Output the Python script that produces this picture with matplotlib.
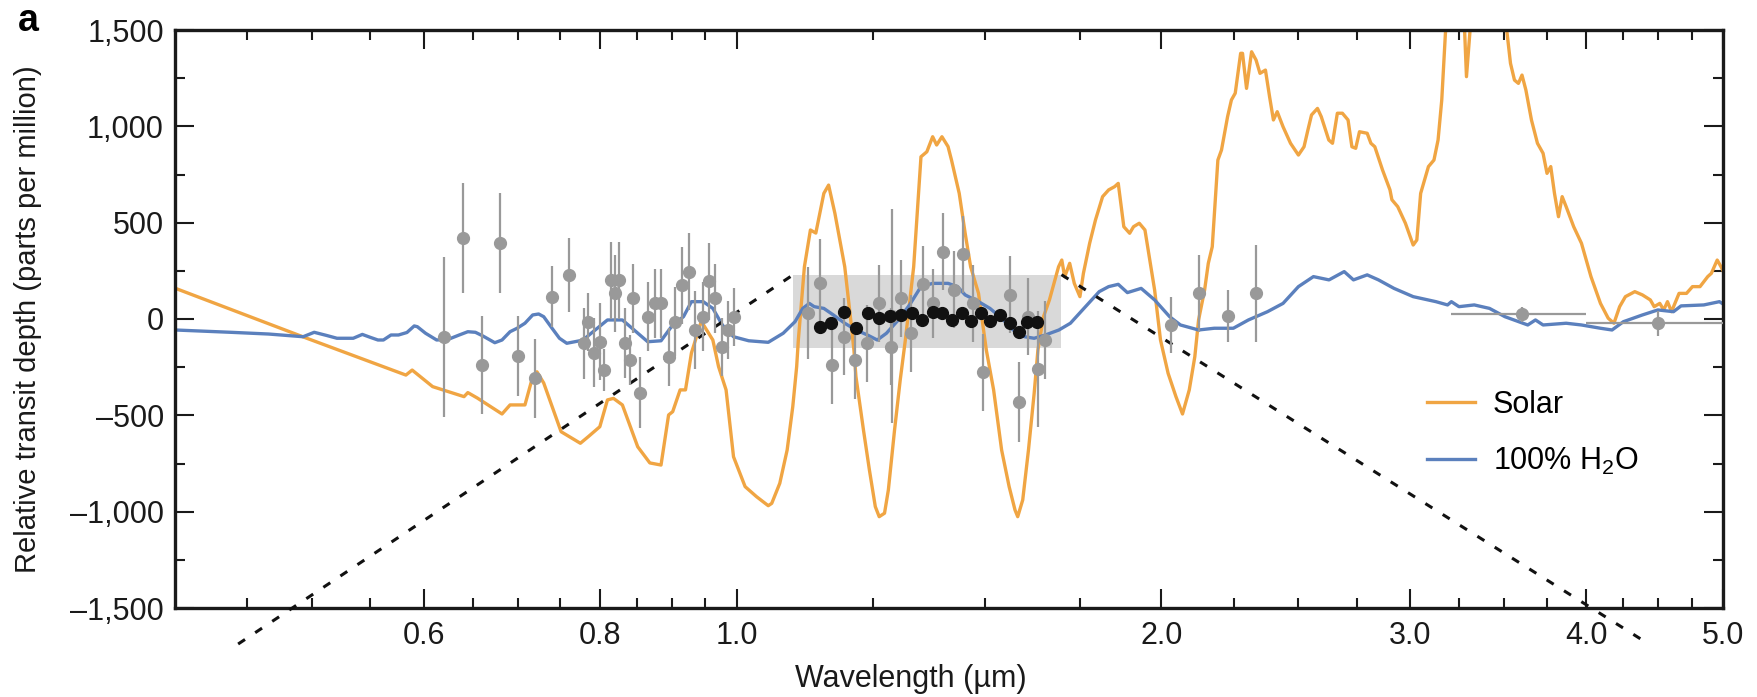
import numpy as np
import matplotlib.pyplot as plt
from matplotlib.ticker import FixedLocator, FuncFormatter, NullFormatter

plt.rcParams['font.family'] = ['Liberation Sans', 'DejaVu Sans']
plt.rcParams['mathtext.default'] = 'regular'

# %% model spectra (wavelength in um, relative depth in ppm)
solar_wl = [0.400, 0.496, 0.583, 0.589, 0.609, 0.641, 0.645, 0.655, 0.682, 0.691, 0.708, 0.715,
            0.722, 0.730, 0.751, 0.775, 0.785, 0.800, 0.810, 0.818, 0.830, 0.851, 0.868, 0.884,
            0.895, 0.901, 0.912, 0.920, 0.929, 0.944, 0.962, 0.971, 0.983, 0.995, 1.014, 1.033,
            1.053, 1.059, 1.073, 1.086, 1.096, 1.103, 1.106, 1.117, 1.128, 1.138, 1.153, 1.162,
            1.174, 1.193, 1.204, 1.211, 1.215, 1.230, 1.242, 1.254, 1.262, 1.273, 1.281, 1.294,
            1.306, 1.317, 1.335, 1.351, 1.364, 1.377, 1.386, 1.398, 1.412, 1.420, 1.438, 1.452,
            1.465, 1.484, 1.503, 1.521, 1.541, 1.560, 1.575, 1.582, 1.595, 1.610, 1.625, 1.635,
            1.650, 1.666, 1.691, 1.700, 1.708, 1.722, 1.735, 1.751, 1.761, 1.779, 1.796, 1.817,
            1.835, 1.853, 1.864, 1.881, 1.899, 1.911, 1.929, 1.947, 1.978, 1.997, 2.022, 2.048,
            2.070, 2.093, 2.112, 2.125, 2.146, 2.159, 2.173, 2.193, 2.206, 2.228, 2.242, 2.256,
            2.276, 2.283, 2.298, 2.317, 2.334, 2.349, 2.370, 2.386, 2.401, 2.416, 2.439, 2.469,
            2.501, 2.524, 2.540, 2.555, 2.580, 2.596, 2.628, 2.644, 2.665, 2.687, 2.712, 2.729,
            2.746, 2.763, 2.798, 2.815, 2.833, 2.869, 2.904, 2.913, 2.941, 2.978, 3.016, 3.034,
            3.053, 3.092, 3.120, 3.141, 3.160, 3.179, 3.200, 3.230, 3.279, 3.290, 3.311, 3.350,
            3.420, 3.512, 3.535, 3.558, 3.581, 3.602, 3.625, 3.658, 3.694, 3.728, 3.752, 3.775,
            3.798, 3.823, 3.846, 3.871, 3.919, 3.969, 4.031, 4.094, 4.146, 4.185, 4.224, 4.264,
            4.330, 4.384, 4.441, 4.469, 4.510, 4.539, 4.567, 4.597, 4.654, 4.711, 4.757, 4.816,
            4.877, 4.906, 4.953, 4.984, 5.000]
solar_ppm = [160, -100, -291, -265, -351, -403, -382, -410, -493, -446, -446, -332,
             -274, -332, -585, -645, -611, -559, -420, -412, -446, -663, -747, -758,
             -498, -481, -368, -368, -176, -12, -109, -247, -368, -715, -870, -922,
             -969, -957, -853, -680, -455, -247, -109, 271, 462, 446, 652, 695,
             548, 271, 12, -161, -299, -576, -784, -974, -1026, -1008, -887, -576,
             -317, -109, 271, 842, 868, 946, 903, 946, 895, 825, 652, 445,
             271, 133, -161, -368, -680, -870, -991, -1026, -939, -680, -386, -161,
             12, 99, 271, 306, 219, 289, 185, 116, 237, 393, 514, 635,
             670, 687, 704, 479, 445, 479, 497, 462, 150, -109, -282, -403,
             -493, -368, -196, -5, 150, 289, 375, 825, 877, 1050, 1137, 1172,
             1379, 1379, 1197, 1387, 1344, 1275, 1292, 1154, 1033, 1076, 998, 912,
             851, 894, 981, 1059, 1093, 1050, 929, 912, 1068, 1068, 1033, 894,
             886, 972, 964, 912, 894, 773, 670, 619, 583, 497, 384, 410,
             652, 791, 825, 929, 1137, 1485, 1650, 1700, 1520, 1258, 1520, 1700,
             1700, 1510, 1327, 1240, 1223, 1266, 1188, 1033, 912, 860, 756, 791,
             652, 531, 635, 583, 479, 393, 220, 81, 4, -22, 64, 116,
             142, 125, 99, 64, 81, 47, 90, 38, 133, 133, 168, 168,
             220, 237, 306, 271, 250]

h2o_wl = [0.400, 0.438, 0.466, 0.493, 0.502, 0.512, 0.521, 0.535, 0.543, 0.550, 0.557, 0.562,
          0.569, 0.576, 0.584, 0.591, 0.594, 0.602, 0.613, 0.625, 0.636, 0.645, 0.653, 0.661,
          0.674, 0.682, 0.691, 0.699, 0.708, 0.717, 0.724, 0.730, 0.740, 0.749, 0.758, 0.778,
          0.790, 0.810, 0.830, 0.846, 0.865, 0.884, 0.901, 0.917, 0.929, 0.947, 0.962, 0.977,
          0.995, 1.020, 1.053, 1.079, 1.100, 1.114, 1.126, 1.135, 1.153, 1.171, 1.193, 1.215,
          1.238, 1.258, 1.277, 1.302, 1.326, 1.351, 1.377, 1.412, 1.434, 1.452, 1.484, 1.512,
          1.541, 1.570, 1.600, 1.625, 1.655, 1.692, 1.724, 1.767, 1.807, 1.835, 1.864, 1.892,
          1.935, 1.978, 2.027, 2.063, 2.125, 2.180, 2.249, 2.305, 2.378, 2.439, 2.501, 2.563,
          2.629, 2.695, 2.736, 2.798, 2.850, 2.923, 3.016, 3.130, 3.190, 3.210, 3.250, 3.332,
          3.416, 3.503, 3.636, 3.682, 3.728, 3.871, 3.969, 4.094, 4.172, 4.250, 4.384, 4.496,
          4.612, 4.669, 4.846, 4.971, 5.000]
h2o_ppm = [-57, -69, -78, -92, -69, -85, -100, -100, -80, -95, -109, -109,
           -83, -83, -70, -36, -40, -74, -109, -105, -83, -66, -69, -88,
           -123, -109, -66, -48, -22, 21, 26, 12, -48, -100, -126, -110,
           -70, -5, -5, -57, -118, -113, -31, 12, 90, 90, 55, -31,
           -92, -113, -121, -74, -14, 55, 81, 64, 55, 21, -22, -57,
           -83, -109, -74, -5, 73, 168, 185, 185, 168, 125, 90, 55,
           4, -57, -92, -100, -83, -57, -22, 64, 142, 168, 180, 137,
           159, 99, 12, -31, -57, -48, -48, -5, 38, 81, 168, 220,
           203, 246, 203, 229, 203, 159, 116, 90, 73, 90, 64, 73,
           55, 12, -31, -5, -31, -22, -31, -48, -57, -14, 21, 47,
           38, 68, 73, 90, 78]

# %% HST/ground measurements (grey) with 1-sigma errors
obs_wl = [0.620, 0.640, 0.660, 0.680, 0.700, 0.720, 0.740, 0.761, 0.779, 0.785, 0.792, 0.800,
          0.805, 0.815, 0.820, 0.825, 0.834, 0.840, 0.845, 0.854, 0.865, 0.876, 0.884, 0.895,
          0.905, 0.915, 0.925, 0.935, 0.946, 0.956, 0.965, 0.976, 0.986, 0.995,
          1.124, 1.145, 1.169, 1.191, 1.214, 1.238, 1.262, 1.286, 1.288, 1.308, 1.330, 1.356,
          1.377, 1.401, 1.425, 1.447, 1.470, 1.495, 1.563, 1.585, 1.610, 1.635, 1.655,
          2.032, 2.128, 2.230, 2.332]
obs_ppm = [-95, 419, -239, 396, -192, -308, 116, 228, -126, -14, -175, -118,
           -265, 202, 133, 202, -125, -213, 108, -382, 12, 81, 81, -196,
           -14, 176, 245, -57, 12, 197, 108, -147, -57, 12,
           30, 185, -239, -92, -213, -126, 81, -144, 16, 108, -74, 180,
           81, 349, 151, 337, 81, -277, 125, -429, 12, -261, -109,
           -31, 133, 16, 133]
obs_err = [415, 285, 255, 260, 210, 205, 160, 190, 185, 150, 180, 200,
           110, 200, 200, 200, 180, 130, 180, 185, 180, 180, 180, 150,
           180, 200, 200, 200, 180, 200, 180, 150, 150, 150,
           240, 230, 200, 200, 200, 200, 200, 200, 555, 200, 200, 200,
           180, 200, 200, 200, 200, 200, 200, 208, 200, 300, 200,
           145, 200, 135, 250]

# WFC3 spectrum (black)
wfc3_wl = [1.145, 1.166, 1.191, 1.215, 1.239, 1.262, 1.285, 1.308, 1.332, 1.354, 1.377,
           1.398, 1.421, 1.444, 1.467, 1.491, 1.513, 1.537, 1.561, 1.585, 1.607, 1.632]
wfc3_ppm = [-43, -22, 35, -48, 30, 7, 16, 21, 30, -5, 35,
            30, -5, 33, -9, 30, -10, 21, -19, -66, -14, -14]

# Spitzer photometry
spitzer_wl = [3.6, 4.5]
spitzer_ppm = [24, -22]
spitzer_err = [40, 65]
spitzer_lo = [3.21, 4.0]
spitzer_hi = [4.0, 5.0]

# box marking the WFC3 range and the zoom lines to panel b
box_wl = [1.097, 1.699]
box_ppm = [-150, 230]
zoom_left_wl = [0.4434, 1.097]
zoom_left_ppm = [-1687, 230]
zoom_right_wl = [1.699, 4.405]
zoom_right_ppm = [230, -1676]

xticks = [0.6, 0.8, 1.0, 2.0, 3.0, 4.0, 5.0]
xminor = [0.45, 0.5, 0.55, 0.65, 0.7, 0.75, 0.85, 0.9, 0.95, 1.25, 1.5, 1.75,
          2.25, 2.5, 2.75, 3.25, 3.5, 3.75, 4.25, 4.5, 4.75]
yticks = [-1500, -1000, -500, 0, 500, 1000, 1500]
yminor = [-1250, -750, -250, 250, 750, 1250]

# %%
orange = '#f0a543'
blue = '#5b80bd'
grey = '#999999'

fig = plt.figure(figsize=(17.57, 6.97), dpi=100)
ax = fig.add_axes([175 / 1757, 89 / 697, 1548 / 1757, 578 / 697])
ax.set_xscale('log')

ax.fill_between(box_wl, box_ppm[0], box_ppm[1], color='#d9d9d9', lw=0, zorder=0)

ax.plot(solar_wl, solar_ppm, color=orange, lw=2.4, label='Solar', zorder=2)
ax.plot(h2o_wl, h2o_ppm, color=blue, lw=2.4, label='100% H$_2$O', zorder=2)

for wl, pp in [(zoom_left_wl, zoom_left_ppm), (zoom_right_wl, zoom_right_ppm)]:
    ax.plot(wl, pp, color='#111111', lw=2.2, dashes=(2.7, 4.0), clip_on=False, zorder=3)

ax.errorbar(obs_wl, obs_ppm, yerr=obs_err, fmt='o', color=grey, ms=8.5, elinewidth=1.6,
            capsize=0, zorder=4)
ax.errorbar(spitzer_wl, spitzer_ppm, yerr=spitzer_err,
            xerr=[np.array(spitzer_wl) - np.array(spitzer_lo), np.array(spitzer_hi) - np.array(spitzer_wl)],
            fmt='o', color=grey, ms=8.5, elinewidth=1.6, capsize=0, zorder=4)
ax.plot(wfc3_wl, wfc3_ppm, 'o', color='#111111', ms=8.5, zorder=5)

ax.set_xlim(0.4, 5.0)
ax.set_ylim(-1500, 1500)
ax.xaxis.set_major_locator(FixedLocator(xticks))
ax.xaxis.set_minor_locator(FixedLocator(xminor))
ax.xaxis.set_major_formatter(FuncFormatter(lambda v, p: f'{v:.1f}'))
ax.xaxis.set_minor_formatter(NullFormatter())
ax.yaxis.set_major_locator(FixedLocator(yticks))
ax.yaxis.set_minor_locator(FixedLocator(yminor))
ax.yaxis.set_major_formatter(FuncFormatter(lambda v, p: f'{v:,.0f}'.replace('-', '\u2013')))

for s in ax.spines.values():
    s.set_linewidth(2.4)
    s.set_color('#1a1a1a')
ax.tick_params(which='both', direction='in', top=True, right=True, width=1.5,
               color='#1a1a1a', labelsize=22, labelcolor='#1a1a1a')
ax.tick_params(which='major', length=13.5)
ax.tick_params(which='minor', length=7)
ax.tick_params(axis='x', pad=9)
ax.tick_params(axis='y', pad=8)

ax.set_xlabel('Wavelength (\u00b5m)', fontsize=22, color='#1a1a1a')
ax.xaxis.set_label_coords((911 - 175) / 1548, -0.097)
ax.set_ylabel('Relative transit depth (parts per million)', fontsize=21, color='#1a1a1a')
ax.yaxis.set_label_coords(-0.086, 0.5)

fig.text(18 / 1757, 1 - 31 / 697, 'a', fontsize=27, fontweight='bold', va='baseline')

ax.legend(loc='upper left', bbox_to_anchor=(0.801, 0.399), frameon=False, fontsize=22,
          handlelength=1.55, handletextpad=0.6, labelspacing=0.85, borderaxespad=0)

fig.savefig('out.png', dpi=100)
